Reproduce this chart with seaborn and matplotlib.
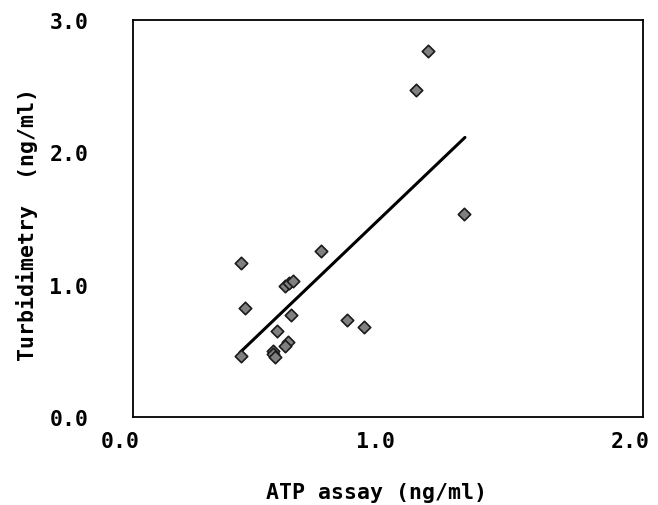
import numpy as np
import pandas as pd
import matplotlib
matplotlib.use("Agg")
import matplotlib.pyplot as plt
import matplotlib.transforms as mtransforms
import seaborn as sns

# values
atp = [0.423, 0.737, 0.598, 0.611, 0.627, 0.442, 0.621, 0.842, 0.907,
       0.565, 0.608, 0.597, 0.549, 0.552, 0.558, 0.423, 1.159, 1.111, 1.300]
turb = [1.162, 1.255, 0.991, 1.009, 1.029, 0.820, 0.770, 0.734, 0.682,
        0.649, 0.564, 0.534, 0.500, 0.475, 0.450, 0.458, 2.760, 2.468, 1.532]
fit_x = [0.421, 1.303]
fit_y = [0.488, 2.111]
x_ticks = [0.0, 1.0, 2.0]
y_ticks = [0.0, 1.0, 2.0, 3.0]

data = pd.DataFrame({"ATP": atp, "Turb": turb})
fit = pd.DataFrame({"x": fit_x, "y": fit_y})

sns.set_style("white")
plt.rcParams["font.family"] = ["DejaVu Sans Mono", "DejaVu Sans"]
plt.rcParams["text.color"] = "black"
plt.rcParams["axes.labelcolor"] = "black"
plt.rcParams["xtick.color"] = "black"
plt.rcParams["ytick.color"] = "black"

fig = plt.figure(figsize=(6.58, 5.06), dpi=100)
ax = fig.add_axes([0.2017, 0.1739, 0.775, 0.7852])

sns.lineplot(data=fit, x="x", y="y", color="black", linewidth=2.2, ax=ax)
sns.scatterplot(data=data, x="ATP", y="Turb", marker="D", s=40,
                color="#808080", edgecolor="#1a1a1a", linewidth=1.2,
                zorder=3, ax=ax)

ax.set_xlim(0, 2)
ax.set_ylim(0, 3)
ax.set_xticks(x_ticks)
ax.set_yticks(y_ticks)
ax.set_xticklabels([f"{v:.1f}" for v in x_ticks], fontsize=15.5, fontweight="bold")
ax.set_yticklabels([f"{v:.1f}" for v in y_ticks], fontsize=15.5, fontweight="bold")
ax.tick_params(axis="both", direction="in", length=6, width=1,
               color="black", labelcolor="black")
ax.tick_params(axis="x", pad=10)
ax.tick_params(axis="y", pad=32)

offset = mtransforms.ScaledTranslation(-12 / 100, 0, fig.dpi_scale_trans)
for label in ax.get_xticklabels():
    label.set_transform(label.get_transform() + offset)

for side in ["left", "right", "top", "bottom"]:
    ax.spines[side].set_color("black")
    ax.spines[side].set_linewidth(1.3)

ax.set_xlabel("ATP assay (ng/ml)", fontsize=15.5, fontweight="bold")
ax.set_ylabel("Turbidimetry  (ng/ml)", fontsize=15.5, fontweight="bold")
ax.xaxis.set_label_coords(0.479, -0.163)
ax.yaxis.set_label_coords(-0.186, 0.486)

plt.savefig("out.png", dpi=100)
